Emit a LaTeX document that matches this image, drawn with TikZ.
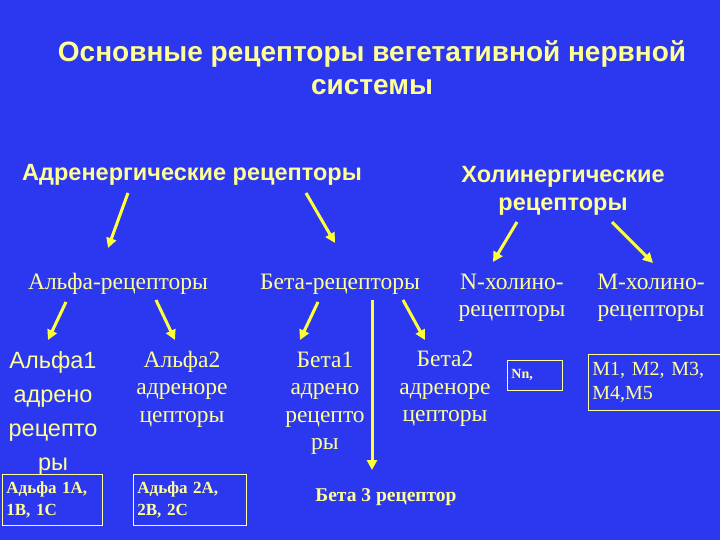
\documentclass[tikz,border=0pt]{standalone}
\usepackage{fontspec}
\setmainfont{Liberation Serif}
\newfontfamily\hsans{Liberation Sans}
\usetikzlibrary{arrows.meta}
\definecolor{bg}{RGB}{44,56,240}
\definecolor{ty}{RGB}{255,255,150}
\definecolor{ay}{RGB}{255,255,60}
\begin{document}
\begin{tikzpicture}[x=1pt,y=-1pt,
  arr/.style={draw=ay,line width=3pt,-{Triangle[length=10pt,width=10pt]}},
  lab/.style={text=ty,font=\fontsize{23.5}{27.5}\selectfont,align=center,inner sep=0pt},
  head/.style={text=ty,font=\hsans\bfseries\fontsize{23.5}{28}\selectfont,align=center,inner sep=0pt},
  boxt/.style={draw=ty,line width=0.8pt,text=ty,font=\bfseries\fontsize{17}{22}\selectfont,align=left,anchor=north west,inner xsep=4pt}]
\fill[bg] (0,0) rectangle (720,540);
\useasboundingbox (0,0) rectangle (720,540);
\node[head,font=\hsans\bfseries\fontsize{28}{33}\selectfont] (t) at (372,68) {Основные рецепторы вегетативной нервной\\системы};
\node[head] (adr) at (192,175) {Адренергические рецепторы};
\node[head] (hol) at (563,191) {Холинергические\\рецепторы};
\node[lab] (alpha) at (118,284) {Альфа-рецепторы};
\node[lab] (beta) at (340,284) {Бета-рецепторы};
\node[lab] (n) at (512,298) {N-холино-\\рецепторы};
\node[lab] (m) at (651,298) {M-холино-\\рецепторы};
\node[lab,font=\hsans\fontsize{23.5}{34}\selectfont] (a1) at (53,413) {Альфа1\\адрено\\рецепто\\ры};
\node[lab] (a2) at (182,389) {Альфа2\\адреноре\\цепторы};
\node[lab] (b1) at (325,403) {Бета1\\адрено\\рецепто\\ры};
\node[lab] (b2) at (445,389) {Бета2\\адреноре\\цепторы};
\node[boxt,text width=92pt,minimum height=51pt] (a1b) at (2,474) {Адьфа 1А,\\1В, 1С};
\node[boxt,text width=105pt,minimum height=51pt] (a2b) at (133,474) {Адьфа 2А,\\2В, 2С};
\node[boxt,text width=47pt,minimum height=30pt,font=\bfseries\fontsize{14}{16}\selectfont] (nb) at (507,360) {Nn,};
\node[boxt,font=\fontsize{20}{24}\selectfont,text width=132pt,minimum height=56pt,inner ysep=3pt] (mb) at (588,354) {M1, M2, M3,\\M4,M5};
\node[text=ty,font=\bfseries\fontsize{19.5}{22}\selectfont,inner sep=0pt] (b3) at (386,497) {Бета 3 рецептор};
\coordinate (s1) at (128,193); \coordinate (e1) at (108,248);
\coordinate (s2) at (306,193); \coordinate (e2) at (335,243);
\coordinate (s3) at (517,222); \coordinate (e3) at (493,262);
\coordinate (s4) at (612,222); \coordinate (e4) at (653,263);
\coordinate (s5) at (66,302); \coordinate (e5) at (48,340);
\coordinate (s6) at (156,300); \coordinate (e6) at (175,340);
\coordinate (s7) at (318,302); \coordinate (e7) at (300,340);
\coordinate (s8) at (403,300); \coordinate (e8) at (425,340);
\coordinate (s9) at (372,300); \coordinate (e9) at (372,470);
\foreach \i in {1,...,9} \draw[arr] (s\i) -- (e\i);
\end{tikzpicture}
\end{document}
